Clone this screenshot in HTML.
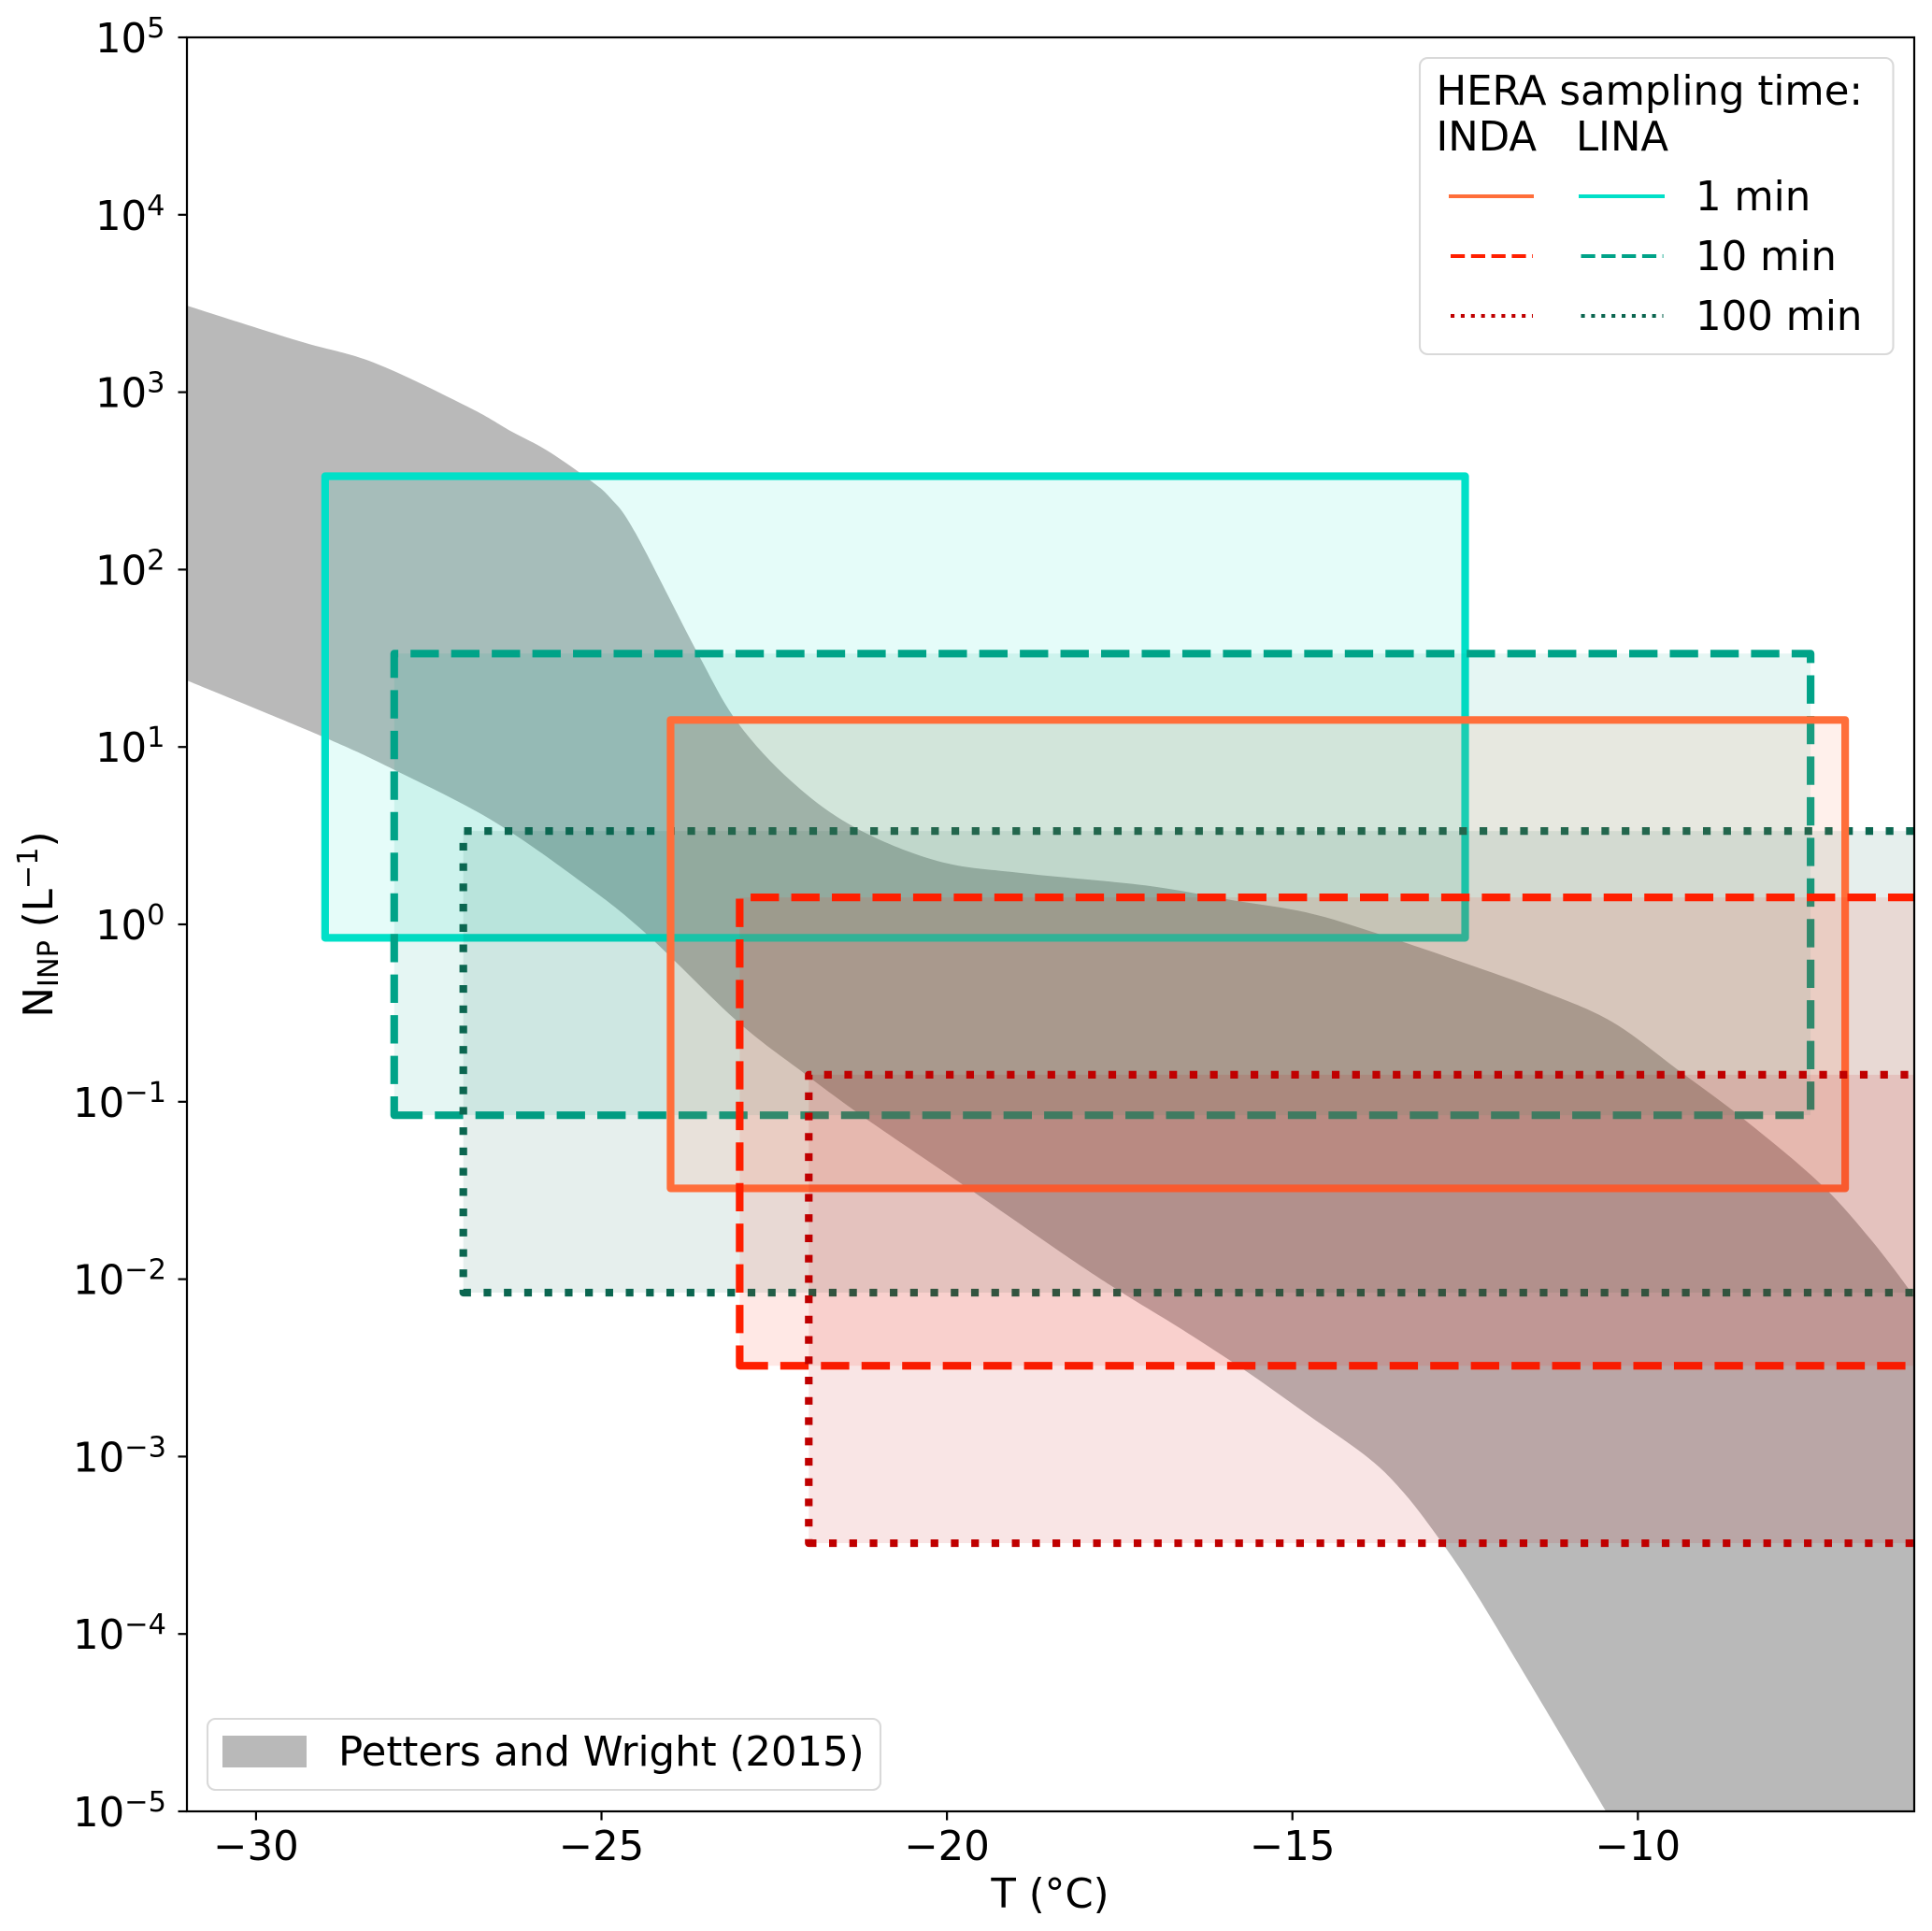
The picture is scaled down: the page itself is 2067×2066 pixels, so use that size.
<!DOCTYPE html>
<html>
<head>
<meta charset="utf-8">
<title>INP concentration chart</title>
<style>
html,body{margin:0;padding:0;background:#fff;}
svg{display:block;}
text{font-family:"DejaVu Sans","Liberation Sans",sans-serif;font-size:43.4px;fill:#000;}
</style>
</head>
<body>
<svg id="chart" xmlns="http://www.w3.org/2000/svg" width="2067" height="2066" viewBox="0 0 2067 2066">
  <rect x="0" y="0" width="2067" height="2066" fill="#fff"/>
  <defs><clipPath id="plot-clip"><rect x="200" y="40" width="1848" height="1898"/></clipPath></defs>
  <g id="marks" clip-path="url(#plot-clip)"></g>
  <g id="axes"></g>
  <text x="1123.5" y="2041" text-anchor="middle">T (°C)</text>
  <text text-anchor="middle" transform="translate(56,989) rotate(-90)">N<tspan font-size="30.4" dy="6">INP</tspan><tspan dy="-6" xml:space="preserve"> (L</tspan><tspan font-size="30.4" dy="-16">−1</tspan><tspan dy="16">)</tspan></text>

  <g>
    <rect x="1519" y="62" width="506.5" height="317" rx="8.5" ry="8.5" fill="#fff" fill-opacity="0.8" stroke="#d9d9d9" stroke-width="2.1"/>
    <text x="1536.5" y="112">HERA sampling time:</text>
    <text x="1536.5" y="161">INDA</text>
    <text x="1686" y="161">LINA</text>
    <line x1="1550" y1="210" x2="1641" y2="210" stroke="#ff6e3a" stroke-width="4.1"/>
    <line x1="1689" y1="210" x2="1781" y2="210" stroke="#00e0c8" stroke-width="4.1"/>
    <text x="1814" y="225">1 min</text>
    <line x1="1552" y1="274" x2="1640" y2="274" stroke="#ff1f00" stroke-width="4.1" stroke-dasharray="15.2 6.6"/>
    <line x1="1691.5" y1="274" x2="1779.5" y2="274" stroke="#00a388" stroke-width="4.1" stroke-dasharray="15.2 6.6"/>
    <text x="1814" y="289">10 min</text>
    <line x1="1552" y1="338" x2="1640" y2="338" stroke="#c00000" stroke-width="4.1" stroke-dasharray="4.1 6.77"/>
    <line x1="1691.5" y1="338" x2="1779.5" y2="338" stroke="#0b6650" stroke-width="4.1" stroke-dasharray="4.1 6.77"/>
    <text x="1814" y="353">100 min</text>
  </g>

  <g>
    <rect x="222" y="1839" width="720" height="76" rx="8.5" ry="8.5" fill="#fff" fill-opacity="0.8" stroke="#d9d9d9" stroke-width="2.1"/>
    <rect x="238" y="1857" width="90" height="34" fill="#b9b9b9"/>
    <text x="362" y="1889">Petters and Wright (2015)</text>
  </g>
</svg>

<script>
// Axis domains
const xDomain = [-31, -6];
const yExpDomain = [-5, 5];

// Tick labels
const xTicks = [-30, -25, -20, -15, -10];
const xTickLabels = ['−30', '−25', '−20', '−15', '−10'];
const yTickExponents = [-5, -4, -3, -2, -1, 0, 1, 2, 3, 4, 5];
const yTickLabels = ['−5', '−4', '−3', '−2', '−1', '0', '1', '2', '3', '4', '5'];

// Petters and Wright (2015) band: temperature (°C) and log10 of N_INP (L^-1)
const upperT = [-31, -29.38, -28.29, -26.94, -26.31, -25.79, -25.18, -24.87, -24.51, -23.6, -23.03, -22.25, -21.34, -20.14, -18.93, -17.12, -15.88, -14.77, -13.75, -12.52, -11.4, -10.38, -9.38, -8.42, -7.35, -6.62, -6.04, -6];
const upperLogN = [3.488, 3.288, 3.166, 2.919, 2.78, 2.672, 2.508, 2.403, 2.208, 1.523, 1.138, 0.806, 0.548, 0.358, 0.29, 0.219, 0.137, 0.065, -0.054, -0.216, -0.374, -0.548, -0.832, -1.112, -1.465, -1.781, -2.076, -2.11];
const lowerT = [-31, -29.04, -28.02, -26.6, -25.3, -24.37, -23.03, -22.07, -21.17, -19.6, -18.15, -17.38, -16.65, -15.71, -14.79, -13.9, -13.39, -12.87, -12.36, -11.57, -10.47];
const lowerLogN = [1.375, 1.059, 0.875, 0.59, 0.242, -0.047, -0.548, -0.838, -1.096, -1.512, -1.902, -2.097, -2.271, -2.508, -2.761, -3.008, -3.203, -3.467, -3.762, -4.273, -4.995];

// HERA measurement windows
const boxNames = ['lina-1min', 'lina-10min', 'lina-100min', 'inda-1min', 'inda-10min', 'inda-100min'];
const boxTMin = [-29, -28, -27, -24, -23, -22];
const boxTMax = [-12.5, -7.5, -2.5, -7, -2, -2];
const boxNMin = [0.84, 0.084, 0.0084, 0.0325, 0.00325, 0.000325];
const boxNMax = [336, 33.6, 3.36, 14.2, 1.42, 0.142];
const boxColors = ['#00e0c8', '#00a388', '#0b6650', '#ff6e3a', '#ff1f00', '#c00000'];
const boxStyles = ['solid', 'dashed', 'dotted', 'solid', 'dashed', 'dotted'];

const NS = 'http://www.w3.org/2000/svg';
const plot = { left: 200, right: 2048, top: 40, bottom: 1938 };
const lw = 8.2;
const dashPatterns = { solid: null, dashed: (3.7 * lw) + ' ' + (1.6 * lw), dotted: lw + ' ' + (1.65 * lw) };

function xScale(t) {
  return plot.left + (t - xDomain[0]) / (xDomain[1] - xDomain[0]) * (plot.right - plot.left);
}
function yScaleExp(e) {
  return plot.bottom - (e - yExpDomain[0]) / (yExpDomain[1] - yExpDomain[0]) * (plot.bottom - plot.top);
}
function yScale(n) {
  return yScaleExp(Math.log10(n));
}
function make(tag, parent) {
  const el = document.createElementNS(NS, tag);
  parent.appendChild(el);
  return el;
}
// Smooth curve segments through the projected points
function curveThrough(pts) {
  let d = '';
  for (let i = 0; i < pts.length - 1; i++) {
    const p0 = pts[Math.max(i - 1, 0)], p1 = pts[i], p2 = pts[i + 1], p3 = pts[Math.min(i + 2, pts.length - 1)];
    const c1x = p1[0] + (p2[0] - p0[0]) / 6, c1y = p1[1] + (p2[1] - p0[1]) / 6;
    const c2x = p2[0] - (p3[0] - p1[0]) / 6, c2y = p2[1] - (p3[1] - p1[1]) / 6;
    d += 'C' + c1x.toFixed(1) + ' ' + c1y.toFixed(1) + ' ' + c2x.toFixed(1) + ' ' + c2y.toFixed(1) + ' ' + p2[0].toFixed(1) + ' ' + p2[1].toFixed(1);
  }
  return d;
}

const marks = document.getElementById('marks');
const axes = document.getElementById('axes');

// Gray band
const upperPts = upperT.map(function (t, i) { return [xScale(t), yScaleExp(upperLogN[i])]; });
const lowerPts = lowerT.map(function (t, i) { return [xScale(t), yScaleExp(lowerLogN[i])]; }).reverse();
const floorY = yScaleExp(yExpDomain[0] - 0.05);
const bandPath = 'M' + upperPts[0][0] + ' ' + upperPts[0][1] + curveThrough(upperPts) +
  'L' + upperPts[upperPts.length - 1][0] + ' ' + floorY +
  'L' + lowerPts[0][0] + ' ' + lowerPts[0][1] + curveThrough(lowerPts) + 'Z';
const band = make('path', marks);


band.setAttribute('d', bandPath);
band.setAttribute('fill', '#b9b9b9');

// Boxes (path order follows lower-left, lower-right, upper-right, upper-left)
boxNames.forEach(function (name, i) {
  const x0 = xScale(boxTMin[i]), x1 = xScale(boxTMax[i]);
  const y0 = yScale(boxNMin[i]), y1 = yScale(boxNMax[i]);
  const d = 'M' + x0 + ' ' + y0 + 'L' + x1 + ' ' + y0 + 'L' + x1 + ' ' + y1 + 'L' + x0 + ' ' + y1 + 'Z';
  const fillPath = make('path', marks);
  
  
  fillPath.setAttribute('d', d);
  fillPath.setAttribute('fill', boxColors[i]);
  fillPath.setAttribute('fill-opacity', '0.1');
  const edge = make('path', marks);
  
  
  edge.setAttribute('d', d);
  edge.setAttribute('fill', 'none');
  edge.setAttribute('stroke', boxColors[i]);
  edge.setAttribute('stroke-width', lw);
  edge.setAttribute('stroke-linejoin', 'round');
  if (dashPatterns[boxStyles[i]]) {
    edge.setAttribute('stroke-dasharray', dashPatterns[boxStyles[i]]);
  }
});

// Spines
const frame = make('rect', axes);


frame.setAttribute('x', plot.left);
frame.setAttribute('y', plot.top);
frame.setAttribute('width', plot.right - plot.left);
frame.setAttribute('height', plot.bottom - plot.top);
frame.setAttribute('fill', 'none');
frame.setAttribute('stroke', '#000');
frame.setAttribute('stroke-width', '2.2');

// X ticks
xTicks.forEach(function (t, i) {
  const px = xScale(t);
  const tick = make('line', axes);
  
  
  tick.setAttribute('x1', px);
  tick.setAttribute('x2', px);
  tick.setAttribute('y1', plot.bottom);
  tick.setAttribute('y2', plot.bottom + 9.5);
  tick.setAttribute('stroke', '#000');
  tick.setAttribute('stroke-width', '2.2');
  const label = make('text', axes);
  
  
  label.setAttribute('x', px);
  label.setAttribute('y', 1990);
  label.setAttribute('text-anchor', 'middle');
  label.textContent = xTickLabels[i];
});

// Y ticks
yTickExponents.forEach(function (e, i) {
  const py = yScaleExp(e);
  const tick = make('line', axes);
  
  
  tick.setAttribute('x1', plot.left - 9.5);
  tick.setAttribute('x2', plot.left);
  tick.setAttribute('y1', py);
  tick.setAttribute('y2', py);
  tick.setAttribute('stroke', '#000');
  tick.setAttribute('stroke-width', '2.2');
  const label = make('text', axes);
  
  
  label.setAttribute('x', e < 0 ? 178 : 176.5);
  label.setAttribute('y', py + 16);
  label.setAttribute('text-anchor', 'end');
  const base = make('tspan', label);
  base.textContent = '10';
  const sup = make('tspan', label);
  sup.setAttribute('font-size', '30.4');
  sup.setAttribute('dy', '-16');
  sup.textContent = yTickLabels[i];
});
</script>
</body>
</html>
